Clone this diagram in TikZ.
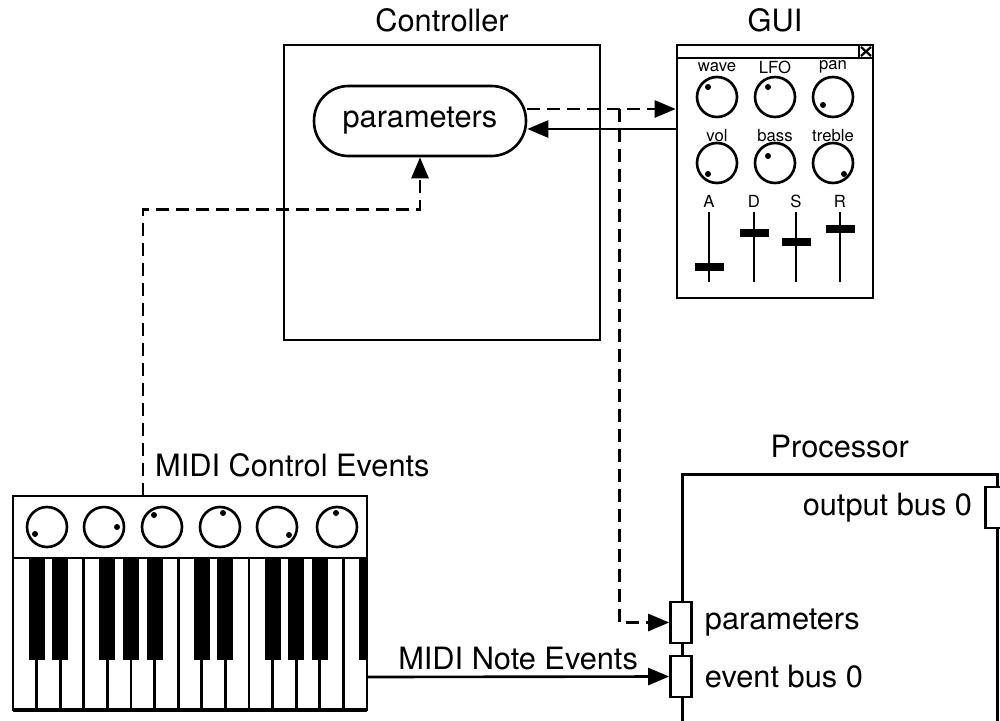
\documentclass[tikz,border=0pt]{standalone}
\usepackage{fontspec}
\setmainfont{TeX Gyre Heros}
\usetikzlibrary{positioning, arrows.meta}

\tikzset{
  box/.style={draw, line width=1.5pt, inner sep=0pt},
  port/.style={draw, fill=white, line width=1.5pt, minimum width=0.42cm, minimum height=0.82cm, inner sep=0pt},
  flow/.style={line width=1.5pt, -{Triangle[length=0.42cm, width=0.34cm]}},
  ctrlflow/.style={flow, dash pattern=on 0.26cm off 0.14cm},
  big/.style={font=\fontsize{17.5}{20}\selectfont},
  small/.style={font=\fontsize{9.5}{11}\selectfont},
}

% a knob: centre x, centre y, offset of its marker dot
\newcommand{\drawknob}[4]{%
  \draw[line width=1.5pt] (#1,#2) circle (0.4cm);
  \fill (#1+#3,#2+#4) circle (0.06cm);}

\begin{document}
\begin{tikzpicture}[x=0.02cm, y=-0.02cm, line width=1.5pt]
	\useasboundingbox (0,0) rectangle (1000,720);

	% controller with its parameter store
	\node[box, minimum width=6.32cm, minimum height=5.9cm] (ctrl) at (442,192.5) {};
	\node[big, above=0.08cm of ctrl] (ctrllbl) {Controller};
	\node[draw, line width=1.5pt, rounded corners=0.69cm, minimum width=4.24cm, minimum height=1.4cm, big] (param) at (420,121) {parameters};

	% GUI window
	\node[box, minimum width=3.92cm, minimum height=5.06cm] (gui) at (775,171.5) {};
	\node[big, above=0.08cm of gui] (guilbl) {GUI};
	\draw (677,58) -- (873,58);
	\draw (859,45) rectangle (873,58);
	\draw[line width=1.3pt] (861,47) -- (871,56) (861,56) -- (871,47);
	\foreach \x/\t/\dx/\dy in {717/wave/-9/-10, 775/LFO/-7/-10, 833/pan/-10/8} {
		\node[small] (k\t) at (\x,67) {\t};
		\drawknob{\x}{97}{\dx}{\dy}
	}
	\foreach \x/\t/\dx/\dy in {717/vol/-9/11, 775/bass/-7/-7, 833/treble/11/11} {
		\node[small] (k\t) at (\x,136) {\t};
		\drawknob{\x}{163}{\dx}{\dy}
	}
	\foreach \x/\h/\t in {709/267/A, 754/233/D, 796/242/S, 840/229/R} {
		\node[small] (s\t) at (\x,201) {\t};
		\draw[line width=1.6pt] (\x,212) -- (\x,282);
		\fill (\x-14.5,\h-4) rectangle (\x+14.5,\h+4);
	}

	% processor and its buses
	\node[box, minimum width=6.3cm, minimum height=6cm, anchor=north west] (proc) at (681,473) {};
	\node[big, above=0.15cm of proc] (proclbl) {Processor};
	\node[port] (oport) at (996,507.5) {};
	\node[port] (pport) at (681,622.5) {};
	\node[port] (eport) at (681,676.5) {};
	\node[big, left=0.1cm of oport] (olbl) {output bus 0};
	\node[big, right=0.1cm of pport] (plbl) {parameters};
	\node[big, right=0.1cm of eport] (elbl) {event bus 0};

	% MIDI keyboard
	\draw (13,496) rectangle (367,710);
	\draw (13,558) -- (367,558);
	\foreach \x/\dx/\dy in {47/-12/7, 104/13/0, 162/-8/-12, 220/3/-14, 277/12/8, 337/-1/-14}
		\drawknob{\x}{527}{\dx}{\dy}
	\foreach \i in {1,...,14}
		\draw (13+23.6*\i,558) -- (13+23.6*\i,710);
	\foreach \i in {1,2,4,5,6,8,9,11,12,13}
		\fill (13+23.6*\i-8,558) rectangle (13+23.6*\i+8,660);
	\fill (359,558) rectangle (367,660);
	\draw[line width=2pt] (13,710) -- (367,710);

	\coordinate (ctl) at (143,496);
	\coordinate (noteout) at (367,677);
	\coordinate (pout) at ([yshift=0.24cm]param.east);
	\coordinate (pin) at ([yshift=-0.16cm]param.east);
	\coordinate (tap) at ([xshift=1.84cm]pout);
	\coordinate (bend) at ([yshift=-1.04cm]param.south);

	% connections
	\node[big, anchor=west] (ctllbl) at (148,465) {MIDI Control Events};
	\draw[ctrlflow] (ctl) |- (bend) -- (param.south);
	\draw[ctrlflow] (pout) -- (pout -| gui.west);
	\draw[flow] (pin -| gui.west) -- (pin);
	\draw[ctrlflow] (tap) |- (pport.west);
	\draw[flow] (noteout) -- node[big, above] (notelbl) {MIDI Note Events} (eport.west);
\end{tikzpicture}
\end{document}
